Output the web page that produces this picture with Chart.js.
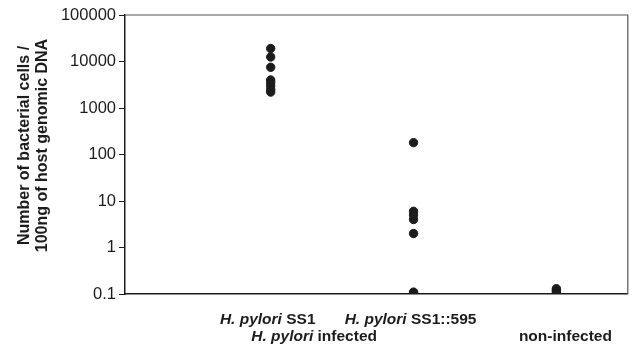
<!DOCTYPE html>
<html>
<head>
<meta charset="utf-8">
<script src="https://cdn.jsdelivr.net/npm/chart.js@4.4.1/dist/chart.umd.min.js"></script>
<style>
  html, body { margin: 0; padding: 0; background: #fff; }
  #wrap { width: 633px; height: 358px; position: relative; }
</style>
</head>
<body>
<div id="wrap"><canvas id="chart"></canvas></div>
<script>
const GROUPS = [
  { pos: 1, italic: 'H. pylori', rest: 'SS1' },
  { pos: 2, italic: 'H. pylori', rest: 'SS1::595' },
  { pos: 3, italic: '', rest: '' }
];
const SS1_VALUES = [19000, 12500, 7500, 4000, 3500, 3000, 2500, 2200];
const SS1_595_VALUES = [180, 6, 5, 4, 2, 0.11, 0.105, 0.1];
const NON_INFECTED_VALUES = [0.13, 0.12, 0.11, 0.1];
const Y_TICKS = [0.1, 1, 10, 100, 1000, 10000, 100000];
const Y_TITLE = ['Number of bacterial cells /', '100ng of host genomic DNA'];

const INK = '#1c1c1c';
const FONT = '"Liberation Sans", Arial, sans-serif';
const LABEL_SIZE = 15.5;

const toPoints = (pos, vals) => vals.map(v => ({ x: pos, y: v }));

const allPoints = [
  ...toPoints(1, SS1_VALUES),
  ...toPoints(2, SS1_595_VALUES),
  ...toPoints(3, NON_INFECTED_VALUES)
];

// frame (top/right lines), y title and two-row category labels
const framePlugin = {
  id: 'frame',
  afterDraw(chart) {
    const { ctx, chartArea: a, scales } = chart;
    ctx.save();
    ctx.strokeStyle = '#555';
    ctx.lineWidth = 1.2;
    ctx.beginPath();
    ctx.moveTo(a.left, a.top);
    ctx.lineTo(a.right, a.top);
    ctx.lineTo(a.right, a.bottom);
    ctx.stroke();

    ctx.fillStyle = INK;
    ctx.textBaseline = 'middle';

    // y axis title, a bit above the plot centre like the original
    ctx.save();
    ctx.translate(34, (a.top + a.bottom) / 2 - 9);
    ctx.rotate(-Math.PI / 2);
    ctx.textAlign = 'center';
    ctx.font = `bold 16px ${FONT}`;
    ctx.fillText(Y_TITLE[0], 0, -9);
    ctx.fillText(Y_TITLE[1], 0, 9);
    ctx.restore();

    const it = `italic bold ${LABEL_SIZE}px ${FONT}`;
    const bd = `bold ${LABEL_SIZE}px ${FONT}`;
    const drawMixed = (x, y, italic, rest) => {
      ctx.font = it;
      const w1 = italic ? ctx.measureText(italic + ' ').width : 0;
      ctx.font = bd;
      const w2 = ctx.measureText(rest).width;
      const left = x - (w1 + w2) / 2;
      ctx.textAlign = 'left';
      if (italic) {
        ctx.font = it;
        ctx.fillText(italic + ' ', left, y);
      }
      ctx.font = bd;
      ctx.fillText(rest, left + w1, y);
    };
    const xs = scales.x;
    GROUPS.slice(0, 2).forEach(g => {
      drawMixed(xs.getPixelForValue(g.pos) - 3, a.bottom + 26, g.italic, g.rest);
    });
    // second row
    const mid = (xs.getPixelForValue(1) + xs.getPixelForValue(2)) / 2 - 28;
    drawMixed(mid, a.bottom + 43, 'H. pylori', 'infected');
    drawMixed(xs.getPixelForValue(3) + 9, a.bottom + 43, '', 'non-infected');
    ctx.restore();
  }
};

new Chart(document.getElementById('chart'), {
  type: 'scatter',
  data: {
    datasets: [{
      data: allPoints,
      backgroundColor: INK,
      borderColor: INK,
      pointRadius: 4.2,
      pointHoverRadius: 4.2
    }]
  },
  options: {
    responsive: true,
    maintainAspectRatio: false,
    animation: false,
    layout: { padding: { top: 15, right: 1, left: 0, bottom: 0 } },
    plugins: { legend: { display: false }, tooltip: { enabled: false } },
    scales: {
      x: {
        type: 'linear',
        min: -0.02,
        max: 3.5,
        ticks: { display: false },
        grid: { drawOnChartArea: false, drawTicks: false },
        border: { color: INK, width: 1.5 },
        afterFit: s => { s.height = 64; }
      },
      y: {
        type: 'logarithmic',
        min: 0.1,
        max: 100000,
        afterBuildTicks: s => { s.ticks = Y_TICKS.map(v => ({ value: v })); },
        ticks: {
          color: INK,
          font: { family: FONT, size: 16.5 },
          padding: 3,
          callback: v => String(v)
        },
        grid: { drawOnChartArea: false, drawTicks: true, tickLength: 6, color: INK },
        border: { color: INK, width: 1.5 },
        afterFit: s => { s.width = 125; }
      }
    }
  },
  plugins: [framePlugin]
});
</script>
</body>
</html>
